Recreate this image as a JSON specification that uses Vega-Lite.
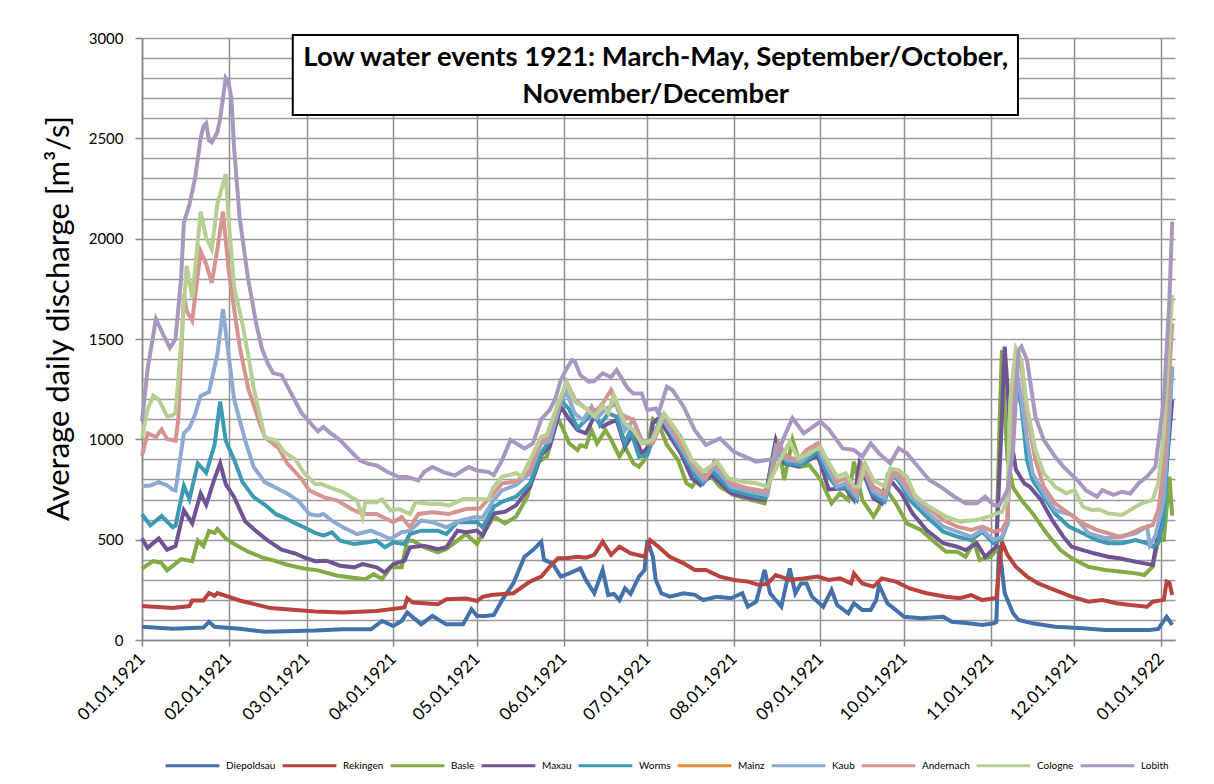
{
"$schema":"https://vega.github.io/schema/vega-lite/v6.json",
"width":1033,"height":602,
"autosize":"none",
"padding":{"left":142,"top":38,"right":39,"bottom":144},
"background":"white",
"config":{"font":"Lato","view":{"stroke":null}},
"data":{"values":[
{"s":"Diepoldsau","d":"1921-01-01","v":66},{"s":"Diepoldsau","d":"1921-01-12","v":56},{"s":"Diepoldsau","d":"1921-01-23","v":62},{"s":"Diepoldsau","d":"1921-01-25","v":90},{"s":"Diepoldsau","d":"1921-01-27","v":66},{"s":"Diepoldsau","d":"1921-02-05","v":56},{"s":"Diepoldsau","d":"1921-02-14","v":41},{"s":"Diepoldsau","d":"1921-02-25","v":45},{"s":"Diepoldsau","d":"1921-03-04","v":47},{"s":"Diepoldsau","d":"1921-03-14","v":53},{"s":"Diepoldsau","d":"1921-03-24","v":53},{"s":"Diepoldsau","d":"1921-03-28","v":95},{"s":"Diepoldsau","d":"1921-04-01","v":70},{"s":"Diepoldsau","d":"1921-04-04","v":95},{"s":"Diepoldsau","d":"1921-04-06","v":137},{"s":"Diepoldsau","d":"1921-04-11","v":78},{"s":"Diepoldsau","d":"1921-04-15","v":120},{"s":"Diepoldsau","d":"1921-04-20","v":78},{"s":"Diepoldsau","d":"1921-04-26","v":78},{"s":"Diepoldsau","d":"1921-04-29","v":153},{"s":"Diepoldsau","d":"1921-05-01","v":120},{"s":"Diepoldsau","d":"1921-05-04","v":120},{"s":"Diepoldsau","d":"1921-05-07","v":125},{"s":"Diepoldsau","d":"1921-05-10","v":199},{"s":"Diepoldsau","d":"1921-05-14","v":282},{"s":"Diepoldsau","d":"1921-05-18","v":415},{"s":"Diepoldsau","d":"1921-05-21","v":448},{"s":"Diepoldsau","d":"1921-05-24","v":490},{"s":"Diepoldsau","d":"1921-05-25","v":399},{"s":"Diepoldsau","d":"1921-05-28","v":382},{"s":"Diepoldsau","d":"1921-05-31","v":316},{"s":"Diepoldsau","d":"1921-06-03","v":332},{"s":"Diepoldsau","d":"1921-06-07","v":357},{"s":"Diepoldsau","d":"1921-06-09","v":299},{"s":"Diepoldsau","d":"1921-06-12","v":233},{"s":"Diepoldsau","d":"1921-06-15","v":349},{"s":"Diepoldsau","d":"1921-06-17","v":224},{"s":"Diepoldsau","d":"1921-06-19","v":230},{"s":"Diepoldsau","d":"1921-06-21","v":199},{"s":"Diepoldsau","d":"1921-06-23","v":257},{"s":"Diepoldsau","d":"1921-06-25","v":230},{"s":"Diepoldsau","d":"1921-06-28","v":316},{"s":"Diepoldsau","d":"1921-06-30","v":349},{"s":"Diepoldsau","d":"1921-07-01","v":498},{"s":"Diepoldsau","d":"1921-07-03","v":415},{"s":"Diepoldsau","d":"1921-07-04","v":300},{"s":"Diepoldsau","d":"1921-07-06","v":233},{"s":"Diepoldsau","d":"1921-07-09","v":216},{"s":"Diepoldsau","d":"1921-07-14","v":233},{"s":"Diepoldsau","d":"1921-07-18","v":225},{"s":"Diepoldsau","d":"1921-07-21","v":199},{"s":"Diepoldsau","d":"1921-07-26","v":216},{"s":"Diepoldsau","d":"1921-07-31","v":208},{"s":"Diepoldsau","d":"1921-08-04","v":233},{"s":"Diepoldsau","d":"1921-08-06","v":166},{"s":"Diepoldsau","d":"1921-08-09","v":191},{"s":"Diepoldsau","d":"1921-08-12","v":349},{"s":"Diepoldsau","d":"1921-08-14","v":233},{"s":"Diepoldsau","d":"1921-08-18","v":166},{"s":"Diepoldsau","d":"1921-08-21","v":357},{"s":"Diepoldsau","d":"1921-08-23","v":233},{"s":"Diepoldsau","d":"1921-08-25","v":282},{"s":"Diepoldsau","d":"1921-08-27","v":282},{"s":"Diepoldsau","d":"1921-08-29","v":216},{"s":"Diepoldsau","d":"1921-09-02","v":166},{"s":"Diepoldsau","d":"1921-09-05","v":249},{"s":"Diepoldsau","d":"1921-09-07","v":174},{"s":"Diepoldsau","d":"1921-09-11","v":133},{"s":"Diepoldsau","d":"1921-09-13","v":183},{"s":"Diepoldsau","d":"1921-09-16","v":150},{"s":"Diepoldsau","d":"1921-09-19","v":150},{"s":"Diepoldsau","d":"1921-09-21","v":199},{"s":"Diepoldsau","d":"1921-09-22","v":274},{"s":"Diepoldsau","d":"1921-09-25","v":183},{"s":"Diepoldsau","d":"1921-10-01","v":116},{"s":"Diepoldsau","d":"1921-10-07","v":108},{"s":"Diepoldsau","d":"1921-10-15","v":116},{"s":"Diepoldsau","d":"1921-10-18","v":91},{"s":"Diepoldsau","d":"1921-10-24","v":83},{"s":"Diepoldsau","d":"1921-10-29","v":75},{"s":"Diepoldsau","d":"1921-11-02","v":83},{"s":"Diepoldsau","d":"1921-11-03","v":90},{"s":"Diepoldsau","d":"1921-11-04","v":470},{"s":"Diepoldsau","d":"1921-11-06","v":233},{"s":"Diepoldsau","d":"1921-11-09","v":133},{"s":"Diepoldsau","d":"1921-11-11","v":100},{"s":"Diepoldsau","d":"1921-11-16","v":83},{"s":"Diepoldsau","d":"1921-11-24","v":66},{"s":"Diepoldsau","d":"1921-12-04","v":58},{"s":"Diepoldsau","d":"1921-12-12","v":50},{"s":"Diepoldsau","d":"1921-12-28","v":50},{"s":"Diepoldsau","d":"1921-12-31","v":55},{"s":"Diepoldsau","d":"1922-01-03","v":116},{"s":"Diepoldsau","d":"1922-01-05","v":75},
{"s":"Rekingen","d":"1921-01-01","v":169},{"s":"Rekingen","d":"1921-01-12","v":159},{"s":"Rekingen","d":"1921-01-18","v":169},{"s":"Rekingen","d":"1921-01-19","v":197},{"s":"Rekingen","d":"1921-01-23","v":197},{"s":"Rekingen","d":"1921-01-25","v":234},{"s":"Rekingen","d":"1921-01-27","v":220},{"s":"Rekingen","d":"1921-01-28","v":234},{"s":"Rekingen","d":"1921-02-05","v":197},{"s":"Rekingen","d":"1921-02-16","v":159},{"s":"Rekingen","d":"1921-03-04","v":142},{"s":"Rekingen","d":"1921-03-14","v":137},{"s":"Rekingen","d":"1921-03-26","v":145},{"s":"Rekingen","d":"1921-04-05","v":162},{"s":"Rekingen","d":"1921-04-06","v":208},{"s":"Rekingen","d":"1921-04-08","v":187},{"s":"Rekingen","d":"1921-04-17","v":178},{"s":"Rekingen","d":"1921-04-20","v":203},{"s":"Rekingen","d":"1921-04-27","v":207},{"s":"Rekingen","d":"1921-05-01","v":195},{"s":"Rekingen","d":"1921-05-03","v":215},{"s":"Rekingen","d":"1921-05-06","v":224},{"s":"Rekingen","d":"1921-05-14","v":233},{"s":"Rekingen","d":"1921-05-20","v":291},{"s":"Rekingen","d":"1921-05-24","v":316},{"s":"Rekingen","d":"1921-05-27","v":365},{"s":"Rekingen","d":"1921-05-30","v":407},{"s":"Rekingen","d":"1921-06-02","v":407},{"s":"Rekingen","d":"1921-06-06","v":415},{"s":"Rekingen","d":"1921-06-09","v":410},{"s":"Rekingen","d":"1921-06-12","v":424},{"s":"Rekingen","d":"1921-06-15","v":490},{"s":"Rekingen","d":"1921-06-18","v":424},{"s":"Rekingen","d":"1921-06-21","v":465},{"s":"Rekingen","d":"1921-06-25","v":432},{"s":"Rekingen","d":"1921-06-30","v":415},{"s":"Rekingen","d":"1921-07-02","v":498},{"s":"Rekingen","d":"1921-07-05","v":465},{"s":"Rekingen","d":"1921-07-09","v":415},{"s":"Rekingen","d":"1921-07-14","v":382},{"s":"Rekingen","d":"1921-07-18","v":349},{"s":"Rekingen","d":"1921-07-22","v":349},{"s":"Rekingen","d":"1921-07-27","v":316},{"s":"Rekingen","d":"1921-08-01","v":299},{"s":"Rekingen","d":"1921-08-06","v":291},{"s":"Rekingen","d":"1921-08-10","v":274},{"s":"Rekingen","d":"1921-08-13","v":280},{"s":"Rekingen","d":"1921-08-16","v":324},{"s":"Rekingen","d":"1921-08-21","v":299},{"s":"Rekingen","d":"1921-08-26","v":307},{"s":"Rekingen","d":"1921-08-31","v":316},{"s":"Rekingen","d":"1921-09-04","v":299},{"s":"Rekingen","d":"1921-09-08","v":307},{"s":"Rekingen","d":"1921-09-12","v":282},{"s":"Rekingen","d":"1921-09-13","v":332},{"s":"Rekingen","d":"1921-09-16","v":282},{"s":"Rekingen","d":"1921-09-20","v":266},{"s":"Rekingen","d":"1921-09-23","v":307},{"s":"Rekingen","d":"1921-09-28","v":291},{"s":"Rekingen","d":"1921-10-03","v":257},{"s":"Rekingen","d":"1921-10-09","v":233},{"s":"Rekingen","d":"1921-10-16","v":216},{"s":"Rekingen","d":"1921-10-21","v":208},{"s":"Rekingen","d":"1921-10-25","v":224},{"s":"Rekingen","d":"1921-10-29","v":199},{"s":"Rekingen","d":"1921-11-03","v":210},{"s":"Rekingen","d":"1921-11-05","v":490},{"s":"Rekingen","d":"1921-11-07","v":424},{"s":"Rekingen","d":"1921-11-10","v":365},{"s":"Rekingen","d":"1921-11-14","v":316},{"s":"Rekingen","d":"1921-11-18","v":282},{"s":"Rekingen","d":"1921-11-24","v":249},{"s":"Rekingen","d":"1921-11-30","v":216},{"s":"Rekingen","d":"1921-12-06","v":191},{"s":"Rekingen","d":"1921-12-11","v":199},{"s":"Rekingen","d":"1921-12-16","v":183},{"s":"Rekingen","d":"1921-12-21","v":174},{"s":"Rekingen","d":"1921-12-27","v":166},{"s":"Rekingen","d":"1921-12-29","v":191},{"s":"Rekingen","d":"1922-01-02","v":200},{"s":"Rekingen","d":"1922-01-03","v":291},{"s":"Rekingen","d":"1922-01-04","v":285},{"s":"Rekingen","d":"1922-01-05","v":224},
{"s":"Basle","d":"1921-01-01","v":356},{"s":"Basle","d":"1921-01-05","v":393},{"s":"Basle","d":"1921-01-08","v":384},{"s":"Basle","d":"1921-01-10","v":347},{"s":"Basle","d":"1921-01-15","v":403},{"s":"Basle","d":"1921-01-19","v":393},{"s":"Basle","d":"1921-01-21","v":496},{"s":"Basle","d":"1921-01-23","v":468},{"s":"Basle","d":"1921-01-25","v":543},{"s":"Basle","d":"1921-01-27","v":534},{"s":"Basle","d":"1921-01-28","v":553},{"s":"Basle","d":"1921-01-31","v":506},{"s":"Basle","d":"1921-02-03","v":478},{"s":"Basle","d":"1921-02-08","v":440},{"s":"Basle","d":"1921-02-13","v":412},{"s":"Basle","d":"1921-02-18","v":393},{"s":"Basle","d":"1921-02-22","v":375},{"s":"Basle","d":"1921-02-28","v":356},{"s":"Basle","d":"1921-03-05","v":347},{"s":"Basle","d":"1921-03-12","v":320},{"s":"Basle","d":"1921-03-17","v":312},{"s":"Basle","d":"1921-03-22","v":303},{"s":"Basle","d":"1921-03-25","v":328},{"s":"Basle","d":"1921-03-28","v":303},{"s":"Basle","d":"1921-03-31","v":362},{"s":"Basle","d":"1921-04-04","v":362},{"s":"Basle","d":"1921-04-06","v":495},{"s":"Basle","d":"1921-04-08","v":495},{"s":"Basle","d":"1921-04-12","v":462},{"s":"Basle","d":"1921-04-17","v":437},{"s":"Basle","d":"1921-04-20","v":453},{"s":"Basle","d":"1921-04-24","v":495},{"s":"Basle","d":"1921-04-27","v":528},{"s":"Basle","d":"1921-05-01","v":478},{"s":"Basle","d":"1921-05-03","v":528},{"s":"Basle","d":"1921-05-07","v":615},{"s":"Basle","d":"1921-05-11","v":581},{"s":"Basle","d":"1921-05-15","v":615},{"s":"Basle","d":"1921-05-19","v":714},{"s":"Basle","d":"1921-05-22","v":880},{"s":"Basle","d":"1921-05-26","v":914},{"s":"Basle","d":"1921-05-30","v":1105},{"s":"Basle","d":"1921-06-01","v":1046},{"s":"Basle","d":"1921-06-03","v":980},{"s":"Basle","d":"1921-06-06","v":947},{"s":"Basle","d":"1921-06-07","v":970},{"s":"Basle","d":"1921-06-09","v":963},{"s":"Basle","d":"1921-06-11","v":1046},{"s":"Basle","d":"1921-06-13","v":980},{"s":"Basle","d":"1921-06-16","v":1046},{"s":"Basle","d":"1921-06-18","v":1000},{"s":"Basle","d":"1921-06-21","v":914},{"s":"Basle","d":"1921-06-23","v":963},{"s":"Basle","d":"1921-06-26","v":880},{"s":"Basle","d":"1921-06-28","v":864},{"s":"Basle","d":"1921-06-30","v":897},{"s":"Basle","d":"1921-07-03","v":1100},{"s":"Basle","d":"1921-07-05","v":1080},{"s":"Basle","d":"1921-07-08","v":972},{"s":"Basle","d":"1921-07-12","v":897},{"s":"Basle","d":"1921-07-15","v":781},{"s":"Basle","d":"1921-07-17","v":764},{"s":"Basle","d":"1921-07-20","v":831},{"s":"Basle","d":"1921-07-24","v":814},{"s":"Basle","d":"1921-07-27","v":764},{"s":"Basle","d":"1921-08-01","v":722},{"s":"Basle","d":"1921-08-07","v":698},{"s":"Basle","d":"1921-08-12","v":681},{"s":"Basle","d":"1921-08-14","v":797},{"s":"Basle","d":"1921-08-17","v":988},{"s":"Basle","d":"1921-08-19","v":797},{"s":"Basle","d":"1921-08-22","v":997},{"s":"Basle","d":"1921-08-25","v":864},{"s":"Basle","d":"1921-08-28","v":872},{"s":"Basle","d":"1921-09-01","v":800},{"s":"Basle","d":"1921-09-05","v":681},{"s":"Basle","d":"1921-09-08","v":731},{"s":"Basle","d":"1921-09-11","v":698},{"s":"Basle","d":"1921-09-13","v":889},{"s":"Basle","d":"1921-09-16","v":698},{"s":"Basle","d":"1921-09-20","v":615},{"s":"Basle","d":"1921-09-22","v":660},{"s":"Basle","d":"1921-09-24","v":764},{"s":"Basle","d":"1921-09-28","v":681},{"s":"Basle","d":"1921-10-02","v":581},{"s":"Basle","d":"1921-10-07","v":548},{"s":"Basle","d":"1921-10-11","v":498},{"s":"Basle","d":"1921-10-16","v":440},{"s":"Basle","d":"1921-10-20","v":440},{"s":"Basle","d":"1921-10-23","v":415},{"s":"Basle","d":"1921-10-26","v":490},{"s":"Basle","d":"1921-10-28","v":399},{"s":"Basle","d":"1921-11-01","v":415},{"s":"Basle","d":"1921-11-03","v":448},{"s":"Basle","d":"1921-11-04","v":1000},{"s":"Basle","d":"1921-11-05","v":1445},{"s":"Basle","d":"1921-11-06","v":1150},{"s":"Basle","d":"1921-11-07","v":900},{"s":"Basle","d":"1921-11-09","v":760},{"s":"Basle","d":"1921-11-12","v":698},{"s":"Basle","d":"1921-11-16","v":631},{"s":"Basle","d":"1921-11-21","v":532},{"s":"Basle","d":"1921-11-26","v":448},{"s":"Basle","d":"1921-11-30","v":407},{"s":"Basle","d":"1921-12-06","v":365},{"s":"Basle","d":"1921-12-12","v":349},{"s":"Basle","d":"1921-12-18","v":340},{"s":"Basle","d":"1921-12-23","v":332},{"s":"Basle","d":"1921-12-26","v":324},{"s":"Basle","d":"1921-12-29","v":365},{"s":"Basle","d":"1921-12-31","v":498},{"s":"Basle","d":"1922-01-02","v":498},{"s":"Basle","d":"1922-01-04","v":814},{"s":"Basle","d":"1922-01-05","v":620},
{"s":"Maxau","d":"1921-01-01","v":506},{"s":"Maxau","d":"1921-01-03","v":459},{"s":"Maxau","d":"1921-01-07","v":506},{"s":"Maxau","d":"1921-01-10","v":450},{"s":"Maxau","d":"1921-01-13","v":468},{"s":"Maxau","d":"1921-01-16","v":646},{"s":"Maxau","d":"1921-01-19","v":581},{"s":"Maxau","d":"1921-01-22","v":730},{"s":"Maxau","d":"1921-01-24","v":674},{"s":"Maxau","d":"1921-01-27","v":805},{"s":"Maxau","d":"1921-01-29","v":880},{"s":"Maxau","d":"1921-01-31","v":777},{"s":"Maxau","d":"1921-02-03","v":712},{"s":"Maxau","d":"1921-02-07","v":590},{"s":"Maxau","d":"1921-02-10","v":553},{"s":"Maxau","d":"1921-02-15","v":496},{"s":"Maxau","d":"1921-02-20","v":450},{"s":"Maxau","d":"1921-02-25","v":431},{"s":"Maxau","d":"1921-02-28","v":412},{"s":"Maxau","d":"1921-03-04","v":393},{"s":"Maxau","d":"1921-03-08","v":395},{"s":"Maxau","d":"1921-03-13","v":370},{"s":"Maxau","d":"1921-03-18","v":362},{"s":"Maxau","d":"1921-03-21","v":378},{"s":"Maxau","d":"1921-03-26","v":362},{"s":"Maxau","d":"1921-03-29","v":337},{"s":"Maxau","d":"1921-04-01","v":378},{"s":"Maxau","d":"1921-04-05","v":395},{"s":"Maxau","d":"1921-04-07","v":462},{"s":"Maxau","d":"1921-04-12","v":470},{"s":"Maxau","d":"1921-04-17","v":453},{"s":"Maxau","d":"1921-04-20","v":462},{"s":"Maxau","d":"1921-04-24","v":545},{"s":"Maxau","d":"1921-04-27","v":537},{"s":"Maxau","d":"1921-05-01","v":545},{"s":"Maxau","d":"1921-05-03","v":520},{"s":"Maxau","d":"1921-05-07","v":631},{"s":"Maxau","d":"1921-05-11","v":639},{"s":"Maxau","d":"1921-05-15","v":672},{"s":"Maxau","d":"1921-05-20","v":764},{"s":"Maxau","d":"1921-05-24","v":922},{"s":"Maxau","d":"1921-05-27","v":963},{"s":"Maxau","d":"1921-05-31","v":1163},{"s":"Maxau","d":"1921-06-03","v":1100},{"s":"Maxau","d":"1921-06-06","v":1046},{"s":"Maxau","d":"1921-06-09","v":1030},{"s":"Maxau","d":"1921-06-12","v":1113},{"s":"Maxau","d":"1921-06-15","v":1063},{"s":"Maxau","d":"1921-06-17","v":1080},{"s":"Maxau","d":"1921-06-20","v":1096},{"s":"Maxau","d":"1921-06-23","v":963},{"s":"Maxau","d":"1921-06-26","v":1030},{"s":"Maxau","d":"1921-06-29","v":930},{"s":"Maxau","d":"1921-07-02","v":970},{"s":"Maxau","d":"1921-07-03","v":1080},{"s":"Maxau","d":"1921-07-05","v":1105},{"s":"Maxau","d":"1921-07-13","v":930},{"s":"Maxau","d":"1921-07-17","v":806},{"s":"Maxau","d":"1921-07-20","v":772},{"s":"Maxau","d":"1921-07-24","v":822},{"s":"Maxau","d":"1921-07-31","v":731},{"s":"Maxau","d":"1921-08-07","v":706},{"s":"Maxau","d":"1921-08-12","v":698},{"s":"Maxau","d":"1921-08-16","v":997},{"s":"Maxau","d":"1921-08-19","v":880},{"s":"Maxau","d":"1921-08-24","v":864},{"s":"Maxau","d":"1921-08-31","v":922},{"s":"Maxau","d":"1921-09-04","v":750},{"s":"Maxau","d":"1921-09-10","v":756},{"s":"Maxau","d":"1921-09-13","v":698},{"s":"Maxau","d":"1921-09-15","v":880},{"s":"Maxau","d":"1921-09-20","v":706},{"s":"Maxau","d":"1921-09-23","v":681},{"s":"Maxau","d":"1921-09-25","v":814},{"s":"Maxau","d":"1921-09-30","v":731},{"s":"Maxau","d":"1921-10-04","v":631},{"s":"Maxau","d":"1921-10-09","v":548},{"s":"Maxau","d":"1921-10-15","v":482},{"s":"Maxau","d":"1921-10-20","v":465},{"s":"Maxau","d":"1921-10-23","v":448},{"s":"Maxau","d":"1921-10-27","v":482},{"s":"Maxau","d":"1921-10-30","v":415},{"s":"Maxau","d":"1921-11-03","v":465},{"s":"Maxau","d":"1921-11-05","v":1113},{"s":"Maxau","d":"1921-11-06","v":1462},{"s":"Maxau","d":"1921-11-07","v":1262},{"s":"Maxau","d":"1921-11-08","v":1030},{"s":"Maxau","d":"1921-11-10","v":850},{"s":"Maxau","d":"1921-11-13","v":781},{"s":"Maxau","d":"1921-11-15","v":764},{"s":"Maxau","d":"1921-11-19","v":698},{"s":"Maxau","d":"1921-11-23","v":598},{"s":"Maxau","d":"1921-11-27","v":515},{"s":"Maxau","d":"1921-11-30","v":465},{"s":"Maxau","d":"1921-12-04","v":448},{"s":"Maxau","d":"1921-12-08","v":432},{"s":"Maxau","d":"1921-12-13","v":415},{"s":"Maxau","d":"1921-12-17","v":407},{"s":"Maxau","d":"1921-12-23","v":390},{"s":"Maxau","d":"1921-12-26","v":382},{"s":"Maxau","d":"1921-12-29","v":374},{"s":"Maxau","d":"1921-12-31","v":532},{"s":"Maxau","d":"1922-01-02","v":698},{"s":"Maxau","d":"1922-01-05","v":1196},
{"s":"Worms","d":"1921-01-01","v":627},{"s":"Worms","d":"1921-01-04","v":571},{"s":"Worms","d":"1921-01-08","v":618},{"s":"Worms","d":"1921-01-12","v":562},{"s":"Worms","d":"1921-01-13","v":570},{"s":"Worms","d":"1921-01-16","v":768},{"s":"Worms","d":"1921-01-18","v":702},{"s":"Worms","d":"1921-01-21","v":880},{"s":"Worms","d":"1921-01-24","v":833},{"s":"Worms","d":"1921-01-27","v":974},{"s":"Worms","d":"1921-01-29","v":1189},{"s":"Worms","d":"1921-01-31","v":993},{"s":"Worms","d":"1921-02-03","v":899},{"s":"Worms","d":"1921-02-06","v":787},{"s":"Worms","d":"1921-02-10","v":712},{"s":"Worms","d":"1921-02-14","v":674},{"s":"Worms","d":"1921-02-18","v":627},{"s":"Worms","d":"1921-02-21","v":609},{"s":"Worms","d":"1921-02-25","v":581},{"s":"Worms","d":"1921-02-28","v":562},{"s":"Worms","d":"1921-03-04","v":534},{"s":"Worms","d":"1921-03-07","v":520},{"s":"Worms","d":"1921-03-10","v":537},{"s":"Worms","d":"1921-03-13","v":495},{"s":"Worms","d":"1921-03-18","v":478},{"s":"Worms","d":"1921-03-23","v":487},{"s":"Worms","d":"1921-03-26","v":495},{"s":"Worms","d":"1921-03-29","v":462},{"s":"Worms","d":"1921-04-01","v":487},{"s":"Worms","d":"1921-04-05","v":478},{"s":"Worms","d":"1921-04-07","v":528},{"s":"Worms","d":"1921-04-11","v":545},{"s":"Worms","d":"1921-04-17","v":545},{"s":"Worms","d":"1921-04-20","v":528},{"s":"Worms","d":"1921-04-24","v":587},{"s":"Worms","d":"1921-04-27","v":587},{"s":"Worms","d":"1921-05-01","v":587},{"s":"Worms","d":"1921-05-03","v":562},{"s":"Worms","d":"1921-05-07","v":664},{"s":"Worms","d":"1921-05-10","v":689},{"s":"Worms","d":"1921-05-15","v":714},{"s":"Worms","d":"1921-05-20","v":781},{"s":"Worms","d":"1921-05-24","v":930},{"s":"Worms","d":"1921-05-27","v":997},{"s":"Worms","d":"1921-05-31","v":1196},{"s":"Worms","d":"1921-06-03","v":1150},{"s":"Worms","d":"1921-06-06","v":1055},{"s":"Worms","d":"1921-06-09","v":1096},{"s":"Worms","d":"1921-06-12","v":1138},{"s":"Worms","d":"1921-06-14","v":1071},{"s":"Worms","d":"1921-06-17","v":1129},{"s":"Worms","d":"1921-06-20","v":1113},{"s":"Worms","d":"1921-06-23","v":980},{"s":"Worms","d":"1921-06-25","v":1046},{"s":"Worms","d":"1921-06-28","v":914},{"s":"Worms","d":"1921-07-01","v":922},{"s":"Worms","d":"1921-07-03","v":1000},{"s":"Worms","d":"1921-07-06","v":1113},{"s":"Worms","d":"1921-07-13","v":947},{"s":"Worms","d":"1921-07-18","v":822},{"s":"Worms","d":"1921-07-21","v":781},{"s":"Worms","d":"1921-07-24","v":847},{"s":"Worms","d":"1921-07-31","v":747},{"s":"Worms","d":"1921-08-07","v":722},{"s":"Worms","d":"1921-08-12","v":706},{"s":"Worms","d":"1921-08-16","v":963},{"s":"Worms","d":"1921-08-20","v":880},{"s":"Worms","d":"1921-08-25","v":872},{"s":"Worms","d":"1921-08-31","v":938},{"s":"Worms","d":"1921-09-04","v":814},{"s":"Worms","d":"1921-09-07","v":756},{"s":"Worms","d":"1921-09-10","v":764},{"s":"Worms","d":"1921-09-14","v":698},{"s":"Worms","d":"1921-09-16","v":864},{"s":"Worms","d":"1921-09-20","v":723},{"s":"Worms","d":"1921-09-24","v":689},{"s":"Worms","d":"1921-09-27","v":831},{"s":"Worms","d":"1921-09-30","v":772},{"s":"Worms","d":"1921-10-03","v":698},{"s":"Worms","d":"1921-10-09","v":615},{"s":"Worms","d":"1921-10-15","v":540},{"s":"Worms","d":"1921-10-20","v":515},{"s":"Worms","d":"1921-10-25","v":498},{"s":"Worms","d":"1921-10-29","v":540},{"s":"Worms","d":"1921-11-02","v":482},{"s":"Worms","d":"1921-11-05","v":507},{"s":"Worms","d":"1921-11-07","v":580},{"s":"Worms","d":"1921-11-08","v":1080},{"s":"Worms","d":"1921-11-10","v":1280},{"s":"Worms","d":"1921-11-12","v":1163},{"s":"Worms","d":"1921-11-14","v":897},{"s":"Worms","d":"1921-11-16","v":797},{"s":"Worms","d":"1921-11-20","v":714},{"s":"Worms","d":"1921-11-24","v":631},{"s":"Worms","d":"1921-11-29","v":565},{"s":"Worms","d":"1921-12-04","v":532},{"s":"Worms","d":"1921-12-09","v":498},{"s":"Worms","d":"1921-12-13","v":482},{"s":"Worms","d":"1921-12-18","v":482},{"s":"Worms","d":"1921-12-23","v":498},{"s":"Worms","d":"1921-12-27","v":482},{"s":"Worms","d":"1921-12-29","v":465},{"s":"Worms","d":"1921-12-31","v":482},{"s":"Worms","d":"1922-01-02","v":598},{"s":"Worms","d":"1922-01-05","v":1362},
{"s":"Kaub","d":"1921-01-01","v":768},{"s":"Kaub","d":"1921-01-04","v":770},{"s":"Kaub","d":"1921-01-07","v":787},{"s":"Kaub","d":"1921-01-10","v":770},{"s":"Kaub","d":"1921-01-12","v":749},{"s":"Kaub","d":"1921-01-13","v":745},{"s":"Kaub","d":"1921-01-16","v":1030},{"s":"Kaub","d":"1921-01-18","v":1058},{"s":"Kaub","d":"1921-01-20","v":1124},{"s":"Kaub","d":"1921-01-22","v":1217},{"s":"Kaub","d":"1921-01-25","v":1236},{"s":"Kaub","d":"1921-01-28","v":1423},{"s":"Kaub","d":"1921-01-30","v":1648},{"s":"Kaub","d":"1921-02-01","v":1423},{"s":"Kaub","d":"1921-02-03","v":1199},{"s":"Kaub","d":"1921-02-07","v":993},{"s":"Kaub","d":"1921-02-10","v":862},{"s":"Kaub","d":"1921-02-14","v":787},{"s":"Kaub","d":"1921-02-18","v":759},{"s":"Kaub","d":"1921-02-22","v":730},{"s":"Kaub","d":"1921-02-26","v":693},{"s":"Kaub","d":"1921-03-02","v":627},{"s":"Kaub","d":"1921-03-05","v":620},{"s":"Kaub","d":"1921-03-07","v":628},{"s":"Kaub","d":"1921-03-10","v":595},{"s":"Kaub","d":"1921-03-14","v":562},{"s":"Kaub","d":"1921-03-19","v":528},{"s":"Kaub","d":"1921-03-24","v":545},{"s":"Kaub","d":"1921-03-27","v":528},{"s":"Kaub","d":"1921-03-31","v":503},{"s":"Kaub","d":"1921-04-04","v":537},{"s":"Kaub","d":"1921-04-07","v":545},{"s":"Kaub","d":"1921-04-11","v":595},{"s":"Kaub","d":"1921-04-15","v":587},{"s":"Kaub","d":"1921-04-20","v":562},{"s":"Kaub","d":"1921-04-25","v":595},{"s":"Kaub","d":"1921-04-30","v":612},{"s":"Kaub","d":"1921-05-03","v":610},{"s":"Kaub","d":"1921-05-07","v":698},{"s":"Kaub","d":"1921-05-10","v":747},{"s":"Kaub","d":"1921-05-15","v":772},{"s":"Kaub","d":"1921-05-20","v":831},{"s":"Kaub","d":"1921-05-24","v":980},{"s":"Kaub","d":"1921-05-27","v":990},{"s":"Kaub","d":"1921-05-31","v":1188},{"s":"Kaub","d":"1921-06-02","v":1237},{"s":"Kaub","d":"1921-06-05","v":1129},{"s":"Kaub","d":"1921-06-08","v":1096},{"s":"Kaub","d":"1921-06-11","v":1163},{"s":"Kaub","d":"1921-06-13","v":1105},{"s":"Kaub","d":"1921-06-16","v":1150},{"s":"Kaub","d":"1921-06-20","v":1179},{"s":"Kaub","d":"1921-06-23","v":1046},{"s":"Kaub","d":"1921-06-26","v":1096},{"s":"Kaub","d":"1921-06-29","v":997},{"s":"Kaub","d":"1921-07-02","v":980},{"s":"Kaub","d":"1921-07-06","v":1113},{"s":"Kaub","d":"1921-07-13","v":963},{"s":"Kaub","d":"1921-07-18","v":847},{"s":"Kaub","d":"1921-07-21","v":797},{"s":"Kaub","d":"1921-07-25","v":864},{"s":"Kaub","d":"1921-07-31","v":764},{"s":"Kaub","d":"1921-08-07","v":739},{"s":"Kaub","d":"1921-08-13","v":722},{"s":"Kaub","d":"1921-08-16","v":963},{"s":"Kaub","d":"1921-08-20","v":897},{"s":"Kaub","d":"1921-08-25","v":889},{"s":"Kaub","d":"1921-08-31","v":963},{"s":"Kaub","d":"1921-09-04","v":847},{"s":"Kaub","d":"1921-09-07","v":764},{"s":"Kaub","d":"1921-09-10","v":781},{"s":"Kaub","d":"1921-09-14","v":714},{"s":"Kaub","d":"1921-09-16","v":864},{"s":"Kaub","d":"1921-09-20","v":739},{"s":"Kaub","d":"1921-09-24","v":706},{"s":"Kaub","d":"1921-09-27","v":831},{"s":"Kaub","d":"1921-09-30","v":789},{"s":"Kaub","d":"1921-10-03","v":723},{"s":"Kaub","d":"1921-10-09","v":639},{"s":"Kaub","d":"1921-10-15","v":565},{"s":"Kaub","d":"1921-10-20","v":540},{"s":"Kaub","d":"1921-10-25","v":515},{"s":"Kaub","d":"1921-10-29","v":548},{"s":"Kaub","d":"1921-11-02","v":498},{"s":"Kaub","d":"1921-11-05","v":515},{"s":"Kaub","d":"1921-11-07","v":590},{"s":"Kaub","d":"1921-11-08","v":1050},{"s":"Kaub","d":"1921-11-10","v":1362},{"s":"Kaub","d":"1921-11-12","v":1200},{"s":"Kaub","d":"1921-11-14","v":1000},{"s":"Kaub","d":"1921-11-16","v":831},{"s":"Kaub","d":"1921-11-20","v":731},{"s":"Kaub","d":"1921-11-24","v":648},{"s":"Kaub","d":"1921-11-30","v":623},{"s":"Kaub","d":"1921-12-02","v":600},{"s":"Kaub","d":"1921-12-06","v":532},{"s":"Kaub","d":"1921-12-12","v":507},{"s":"Kaub","d":"1921-12-18","v":515},{"s":"Kaub","d":"1921-12-23","v":532},{"s":"Kaub","d":"1921-12-27","v":565},{"s":"Kaub","d":"1921-12-28","v":473},{"s":"Kaub","d":"1921-12-30","v":520},{"s":"Kaub","d":"1922-01-02","v":698},{"s":"Kaub","d":"1922-01-05","v":1362},
{"s":"Andernach","d":"1921-01-01","v":918},{"s":"Andernach","d":"1921-01-03","v":1030},{"s":"Andernach","d":"1921-01-06","v":1011},{"s":"Andernach","d":"1921-01-08","v":1049},{"s":"Andernach","d":"1921-01-10","v":1002},{"s":"Andernach","d":"1921-01-13","v":993},{"s":"Andernach","d":"1921-01-14","v":1100},{"s":"Andernach","d":"1921-01-16","v":1723},{"s":"Andernach","d":"1921-01-17","v":1640},{"s":"Andernach","d":"1921-01-19","v":1592},{"s":"Andernach","d":"1921-01-22","v":1938},{"s":"Andernach","d":"1921-01-24","v":1873},{"s":"Andernach","d":"1921-01-26","v":1779},{"s":"Andernach","d":"1921-01-28","v":1948},{"s":"Andernach","d":"1921-01-30","v":2135},{"s":"Andernach","d":"1921-02-01","v":1850},{"s":"Andernach","d":"1921-02-03","v":1650},{"s":"Andernach","d":"1921-02-05","v":1461},{"s":"Andernach","d":"1921-02-08","v":1255},{"s":"Andernach","d":"1921-02-12","v":1086},{"s":"Andernach","d":"1921-02-14","v":1011},{"s":"Andernach","d":"1921-02-19","v":955},{"s":"Andernach","d":"1921-02-22","v":880},{"s":"Andernach","d":"1921-02-27","v":805},{"s":"Andernach","d":"1921-03-02","v":745},{"s":"Andernach","d":"1921-03-07","v":712},{"s":"Andernach","d":"1921-03-12","v":695},{"s":"Andernach","d":"1921-03-17","v":653},{"s":"Andernach","d":"1921-03-21","v":628},{"s":"Andernach","d":"1921-03-26","v":628},{"s":"Andernach","d":"1921-04-01","v":587},{"s":"Andernach","d":"1921-04-04","v":612},{"s":"Andernach","d":"1921-04-07","v":562},{"s":"Andernach","d":"1921-04-10","v":628},{"s":"Andernach","d":"1921-04-15","v":637},{"s":"Andernach","d":"1921-04-21","v":628},{"s":"Andernach","d":"1921-04-27","v":653},{"s":"Andernach","d":"1921-05-02","v":655},{"s":"Andernach","d":"1921-05-07","v":731},{"s":"Andernach","d":"1921-05-10","v":781},{"s":"Andernach","d":"1921-05-15","v":789},{"s":"Andernach","d":"1921-05-20","v":847},{"s":"Andernach","d":"1921-05-24","v":997},{"s":"Andernach","d":"1921-05-26","v":1000},{"s":"Andernach","d":"1921-05-30","v":1163},{"s":"Andernach","d":"1921-06-02","v":1287},{"s":"Andernach","d":"1921-06-05","v":1200},{"s":"Andernach","d":"1921-06-09","v":1154},{"s":"Andernach","d":"1921-06-13","v":1146},{"s":"Andernach","d":"1921-06-15","v":1180},{"s":"Andernach","d":"1921-06-18","v":1246},{"s":"Andernach","d":"1921-06-21","v":1129},{"s":"Andernach","d":"1921-06-26","v":1096},{"s":"Andernach","d":"1921-06-29","v":980},{"s":"Andernach","d":"1921-07-03","v":980},{"s":"Andernach","d":"1921-07-07","v":1120},{"s":"Andernach","d":"1921-07-13","v":980},{"s":"Andernach","d":"1921-07-18","v":864},{"s":"Andernach","d":"1921-07-22","v":806},{"s":"Andernach","d":"1921-07-25","v":889},{"s":"Andernach","d":"1921-07-31","v":781},{"s":"Andernach","d":"1921-08-06","v":756},{"s":"Andernach","d":"1921-08-10","v":747},{"s":"Andernach","d":"1921-08-13","v":739},{"s":"Andernach","d":"1921-08-17","v":980},{"s":"Andernach","d":"1921-08-20","v":914},{"s":"Andernach","d":"1921-08-24","v":897},{"s":"Andernach","d":"1921-08-27","v":947},{"s":"Andernach","d":"1921-08-31","v":980},{"s":"Andernach","d":"1921-09-04","v":880},{"s":"Andernach","d":"1921-09-07","v":789},{"s":"Andernach","d":"1921-09-10","v":805},{"s":"Andernach","d":"1921-09-14","v":731},{"s":"Andernach","d":"1921-09-16","v":864},{"s":"Andernach","d":"1921-09-20","v":764},{"s":"Andernach","d":"1921-09-24","v":731},{"s":"Andernach","d":"1921-09-27","v":839},{"s":"Andernach","d":"1921-09-29","v":830},{"s":"Andernach","d":"1921-10-03","v":747},{"s":"Andernach","d":"1921-10-09","v":664},{"s":"Andernach","d":"1921-10-15","v":598},{"s":"Andernach","d":"1921-10-20","v":565},{"s":"Andernach","d":"1921-10-25","v":548},{"s":"Andernach","d":"1921-10-29","v":565},{"s":"Andernach","d":"1921-11-02","v":540},{"s":"Andernach","d":"1921-11-05","v":548},{"s":"Andernach","d":"1921-11-07","v":600},{"s":"Andernach","d":"1921-11-08","v":1030},{"s":"Andernach","d":"1921-11-10","v":1395},{"s":"Andernach","d":"1921-11-12","v":1362},{"s":"Andernach","d":"1921-11-14","v":1129},{"s":"Andernach","d":"1921-11-17","v":897},{"s":"Andernach","d":"1921-11-20","v":764},{"s":"Andernach","d":"1921-11-24","v":681},{"s":"Andernach","d":"1921-11-29","v":631},{"s":"Andernach","d":"1921-12-04","v":581},{"s":"Andernach","d":"1921-12-09","v":548},{"s":"Andernach","d":"1921-12-13","v":532},{"s":"Andernach","d":"1921-12-17","v":515},{"s":"Andernach","d":"1921-12-21","v":530},{"s":"Andernach","d":"1921-12-25","v":556},{"s":"Andernach","d":"1921-12-29","v":573},{"s":"Andernach","d":"1921-12-31","v":648},{"s":"Andernach","d":"1922-01-02","v":864},{"s":"Andernach","d":"1922-01-05","v":1578},
{"s":"Cologne","d":"1921-01-01","v":1010},{"s":"Cologne","d":"1921-01-03","v":1150},{"s":"Cologne","d":"1921-01-05","v":1217},{"s":"Cologne","d":"1921-01-07","v":1199},{"s":"Cologne","d":"1921-01-10","v":1114},{"s":"Cologne","d":"1921-01-12","v":1120},{"s":"Cologne","d":"1921-01-13","v":1133},{"s":"Cologne","d":"1921-01-14","v":1300},{"s":"Cologne","d":"1921-01-15","v":1480},{"s":"Cologne","d":"1921-01-17","v":1864},{"s":"Cologne","d":"1921-01-19","v":1704},{"s":"Cologne","d":"1921-01-22","v":2135},{"s":"Cologne","d":"1921-01-24","v":2004},{"s":"Cologne","d":"1921-01-26","v":1948},{"s":"Cologne","d":"1921-01-28","v":2173},{"s":"Cologne","d":"1921-01-31","v":2322},{"s":"Cologne","d":"1921-02-01","v":2100},{"s":"Cologne","d":"1921-02-03","v":1761},{"s":"Cologne","d":"1921-02-06","v":1573},{"s":"Cologne","d":"1921-02-08","v":1423},{"s":"Cologne","d":"1921-02-10","v":1255},{"s":"Cologne","d":"1921-02-14","v":1011},{"s":"Cologne","d":"1921-02-18","v":993},{"s":"Cologne","d":"1921-02-21","v":936},{"s":"Cologne","d":"1921-02-25","v":899},{"s":"Cologne","d":"1921-02-28","v":833},{"s":"Cologne","d":"1921-03-04","v":777},{"s":"Cologne","d":"1921-03-06","v":778},{"s":"Cologne","d":"1921-03-09","v":762},{"s":"Cologne","d":"1921-03-14","v":737},{"s":"Cologne","d":"1921-03-19","v":695},{"s":"Cologne","d":"1921-03-21","v":612},{"s":"Cologne","d":"1921-03-22","v":687},{"s":"Cologne","d":"1921-03-26","v":687},{"s":"Cologne","d":"1921-03-28","v":700},{"s":"Cologne","d":"1921-03-31","v":645},{"s":"Cologne","d":"1921-04-03","v":653},{"s":"Cologne","d":"1921-04-07","v":628},{"s":"Cologne","d":"1921-04-09","v":687},{"s":"Cologne","d":"1921-04-14","v":678},{"s":"Cologne","d":"1921-04-18","v":678},{"s":"Cologne","d":"1921-04-21","v":670},{"s":"Cologne","d":"1921-04-26","v":703},{"s":"Cologne","d":"1921-05-01","v":703},{"s":"Cologne","d":"1921-05-05","v":700},{"s":"Cologne","d":"1921-05-07","v":764},{"s":"Cologne","d":"1921-05-10","v":814},{"s":"Cologne","d":"1921-05-15","v":831},{"s":"Cologne","d":"1921-05-17","v":814},{"s":"Cologne","d":"1921-05-20","v":897},{"s":"Cologne","d":"1921-05-24","v":1013},{"s":"Cologne","d":"1921-05-26","v":1021},{"s":"Cologne","d":"1921-05-30","v":1179},{"s":"Cologne","d":"1921-06-02","v":1279},{"s":"Cologne","d":"1921-06-05","v":1188},{"s":"Cologne","d":"1921-06-09","v":1154},{"s":"Cologne","d":"1921-06-12","v":1113},{"s":"Cologne","d":"1921-06-15","v":1171},{"s":"Cologne","d":"1921-06-17","v":1129},{"s":"Cologne","d":"1921-06-19","v":1221},{"s":"Cologne","d":"1921-06-23","v":1080},{"s":"Cologne","d":"1921-06-26","v":1046},{"s":"Cologne","d":"1921-06-29","v":980},{"s":"Cologne","d":"1921-07-03","v":997},{"s":"Cologne","d":"1921-07-05","v":1063},{"s":"Cologne","d":"1921-07-07","v":1129},{"s":"Cologne","d":"1921-07-08","v":1110},{"s":"Cologne","d":"1921-07-13","v":1013},{"s":"Cologne","d":"1921-07-17","v":897},{"s":"Cologne","d":"1921-07-21","v":839},{"s":"Cologne","d":"1921-07-26","v":889},{"s":"Cologne","d":"1921-07-30","v":806},{"s":"Cologne","d":"1921-08-04","v":789},{"s":"Cologne","d":"1921-08-09","v":781},{"s":"Cologne","d":"1921-08-13","v":764},{"s":"Cologne","d":"1921-08-17","v":880},{"s":"Cologne","d":"1921-08-21","v":988},{"s":"Cologne","d":"1921-08-24","v":905},{"s":"Cologne","d":"1921-08-28","v":930},{"s":"Cologne","d":"1921-09-01","v":963},{"s":"Cologne","d":"1921-09-04","v":880},{"s":"Cologne","d":"1921-09-07","v":814},{"s":"Cologne","d":"1921-09-10","v":831},{"s":"Cologne","d":"1921-09-13","v":764},{"s":"Cologne","d":"1921-09-15","v":764},{"s":"Cologne","d":"1921-09-17","v":880},{"s":"Cologne","d":"1921-09-20","v":797},{"s":"Cologne","d":"1921-09-24","v":764},{"s":"Cologne","d":"1921-09-26","v":855},{"s":"Cologne","d":"1921-09-29","v":847},{"s":"Cologne","d":"1921-10-02","v":814},{"s":"Cologne","d":"1921-10-05","v":714},{"s":"Cologne","d":"1921-10-10","v":664},{"s":"Cologne","d":"1921-10-16","v":615},{"s":"Cologne","d":"1921-10-21","v":590},{"s":"Cologne","d":"1921-10-27","v":598},{"s":"Cologne","d":"1921-10-31","v":615},{"s":"Cologne","d":"1921-11-04","v":635},{"s":"Cologne","d":"1921-11-05","v":639},{"s":"Cologne","d":"1921-11-07","v":698},{"s":"Cologne","d":"1921-11-08","v":1196},{"s":"Cologne","d":"1921-11-10","v":1453},{"s":"Cologne","d":"1921-11-12","v":1395},{"s":"Cologne","d":"1921-11-14","v":1163},{"s":"Cologne","d":"1921-11-17","v":947},{"s":"Cologne","d":"1921-11-20","v":831},{"s":"Cologne","d":"1921-11-24","v":764},{"s":"Cologne","d":"1921-11-28","v":731},{"s":"Cologne","d":"1921-12-01","v":747},{"s":"Cologne","d":"1921-12-04","v":664},{"s":"Cologne","d":"1921-12-07","v":648},{"s":"Cologne","d":"1921-12-10","v":650},{"s":"Cologne","d":"1921-12-13","v":631},{"s":"Cologne","d":"1921-12-18","v":623},{"s":"Cologne","d":"1921-12-21","v":648},{"s":"Cologne","d":"1921-12-25","v":681},{"s":"Cologne","d":"1921-12-29","v":698},{"s":"Cologne","d":"1921-12-31","v":781},{"s":"Cologne","d":"1922-01-02","v":1030},{"s":"Cologne","d":"1922-01-05","v":1719},
{"s":"Lobith","d":"1921-01-01","v":1090},{"s":"Lobith","d":"1921-01-03","v":1350},{"s":"Lobith","d":"1921-01-06","v":1600},{"s":"Lobith","d":"1921-01-09","v":1510},{"s":"Lobith","d":"1921-01-11","v":1455},{"s":"Lobith","d":"1921-01-13","v":1500},{"s":"Lobith","d":"1921-01-15","v":1800},{"s":"Lobith","d":"1921-01-16","v":2080},{"s":"Lobith","d":"1921-01-18","v":2170},{"s":"Lobith","d":"1921-01-20","v":2300},{"s":"Lobith","d":"1921-01-22","v":2500},{"s":"Lobith","d":"1921-01-23","v":2560},{"s":"Lobith","d":"1921-01-24","v":2575},{"s":"Lobith","d":"1921-01-25","v":2490},{"s":"Lobith","d":"1921-01-26","v":2480},{"s":"Lobith","d":"1921-01-28","v":2530},{"s":"Lobith","d":"1921-01-29","v":2600},{"s":"Lobith","d":"1921-01-31","v":2800},{"s":"Lobith","d":"1921-02-01","v":2780},{"s":"Lobith","d":"1921-02-02","v":2700},{"s":"Lobith","d":"1921-02-03","v":2450},{"s":"Lobith","d":"1921-02-05","v":2100},{"s":"Lobith","d":"1921-02-08","v":1800},{"s":"Lobith","d":"1921-02-11","v":1570},{"s":"Lobith","d":"1921-02-13","v":1450},{"s":"Lobith","d":"1921-02-15","v":1380},{"s":"Lobith","d":"1921-02-17","v":1330},{"s":"Lobith","d":"1921-02-20","v":1320},{"s":"Lobith","d":"1921-02-23","v":1240},{"s":"Lobith","d":"1921-02-27","v":1135},{"s":"Lobith","d":"1921-03-03","v":1070},{"s":"Lobith","d":"1921-03-05","v":1040},{"s":"Lobith","d":"1921-03-07","v":1062},{"s":"Lobith","d":"1921-03-09","v":1037},{"s":"Lobith","d":"1921-03-13","v":995},{"s":"Lobith","d":"1921-03-17","v":937},{"s":"Lobith","d":"1921-03-20","v":895},{"s":"Lobith","d":"1921-03-23","v":878},{"s":"Lobith","d":"1921-03-26","v":870},{"s":"Lobith","d":"1921-03-30","v":837},{"s":"Lobith","d":"1921-04-03","v":812},{"s":"Lobith","d":"1921-04-06","v":812},{"s":"Lobith","d":"1921-04-10","v":795},{"s":"Lobith","d":"1921-04-12","v":837},{"s":"Lobith","d":"1921-04-15","v":862},{"s":"Lobith","d":"1921-04-19","v":837},{"s":"Lobith","d":"1921-04-23","v":820},{"s":"Lobith","d":"1921-04-28","v":862},{"s":"Lobith","d":"1921-05-01","v":845},{"s":"Lobith","d":"1921-05-05","v":837},{"s":"Lobith","d":"1921-05-07","v":822},{"s":"Lobith","d":"1921-05-10","v":897},{"s":"Lobith","d":"1921-05-13","v":997},{"s":"Lobith","d":"1921-05-18","v":955},{"s":"Lobith","d":"1921-05-21","v":980},{"s":"Lobith","d":"1921-05-24","v":1100},{"s":"Lobith","d":"1921-05-27","v":1146},{"s":"Lobith","d":"1921-05-29","v":1200},{"s":"Lobith","d":"1921-05-31","v":1296},{"s":"Lobith","d":"1921-06-02","v":1350},{"s":"Lobith","d":"1921-06-04","v":1395},{"s":"Lobith","d":"1921-06-05","v":1390},{"s":"Lobith","d":"1921-06-07","v":1320},{"s":"Lobith","d":"1921-06-10","v":1287},{"s":"Lobith","d":"1921-06-12","v":1290},{"s":"Lobith","d":"1921-06-15","v":1329},{"s":"Lobith","d":"1921-06-18","v":1310},{"s":"Lobith","d":"1921-06-20","v":1345},{"s":"Lobith","d":"1921-06-24","v":1254},{"s":"Lobith","d":"1921-06-26","v":1229},{"s":"Lobith","d":"1921-06-29","v":1229},{"s":"Lobith","d":"1921-07-01","v":1146},{"s":"Lobith","d":"1921-07-04","v":1154},{"s":"Lobith","d":"1921-07-05","v":1129},{"s":"Lobith","d":"1921-07-08","v":1262},{"s":"Lobith","d":"1921-07-10","v":1246},{"s":"Lobith","d":"1921-07-14","v":1163},{"s":"Lobith","d":"1921-07-18","v":1046},{"s":"Lobith","d":"1921-07-22","v":972},{"s":"Lobith","d":"1921-07-27","v":1005},{"s":"Lobith","d":"1921-08-01","v":938},{"s":"Lobith","d":"1921-08-05","v":914},{"s":"Lobith","d":"1921-08-09","v":889},{"s":"Lobith","d":"1921-08-13","v":897},{"s":"Lobith","d":"1921-08-16","v":900},{"s":"Lobith","d":"1921-08-19","v":1013},{"s":"Lobith","d":"1921-08-22","v":1105},{"s":"Lobith","d":"1921-08-26","v":1030},{"s":"Lobith","d":"1921-09-01","v":1088},{"s":"Lobith","d":"1921-09-04","v":1050},{"s":"Lobith","d":"1921-09-09","v":955},{"s":"Lobith","d":"1921-09-13","v":947},{"s":"Lobith","d":"1921-09-16","v":914},{"s":"Lobith","d":"1921-09-19","v":980},{"s":"Lobith","d":"1921-09-22","v":930},{"s":"Lobith","d":"1921-09-26","v":880},{"s":"Lobith","d":"1921-09-29","v":955},{"s":"Lobith","d":"1921-10-02","v":930},{"s":"Lobith","d":"1921-10-05","v":880},{"s":"Lobith","d":"1921-10-10","v":797},{"s":"Lobith","d":"1921-10-14","v":764},{"s":"Lobith","d":"1921-10-19","v":714},{"s":"Lobith","d":"1921-10-23","v":681},{"s":"Lobith","d":"1921-10-27","v":681},{"s":"Lobith","d":"1921-10-30","v":714},{"s":"Lobith","d":"1921-11-02","v":673},{"s":"Lobith","d":"1921-11-04","v":670},{"s":"Lobith","d":"1921-11-07","v":747},{"s":"Lobith","d":"1921-11-09","v":947},{"s":"Lobith","d":"1921-11-10","v":1200},{"s":"Lobith","d":"1921-11-11","v":1445},{"s":"Lobith","d":"1921-11-12","v":1462},{"s":"Lobith","d":"1921-11-14","v":1395},{"s":"Lobith","d":"1921-11-17","v":1113},{"s":"Lobith","d":"1921-11-20","v":997},{"s":"Lobith","d":"1921-11-24","v":914},{"s":"Lobith","d":"1921-11-27","v":864},{"s":"Lobith","d":"1921-12-02","v":797},{"s":"Lobith","d":"1921-12-05","v":747},{"s":"Lobith","d":"1921-12-09","v":714},{"s":"Lobith","d":"1921-12-11","v":747},{"s":"Lobith","d":"1921-12-15","v":723},{"s":"Lobith","d":"1921-12-18","v":739},{"s":"Lobith","d":"1921-12-21","v":730},{"s":"Lobith","d":"1921-12-24","v":781},{"s":"Lobith","d":"1921-12-27","v":814},{"s":"Lobith","d":"1921-12-30","v":864},{"s":"Lobith","d":"1921-12-31","v":980},{"s":"Lobith","d":"1922-01-02","v":1196},{"s":"Lobith","d":"1922-01-04","v":1694},{"s":"Lobith","d":"1922-01-05","v":2085}
]},
"layer":[
{"mark":{"type":"line","strokeWidth":4,"clip":false},
 "encoding":{
  "x":{"field":"d","type":"temporal","scale":{"type":"utc","domain":[{"year":1921,"month":1,"date":1,"utc":true},{"year":1922,"month":1,"date":6,"utc":true}]},
   "axis":{"title":null,"values":[{"year":1921,"month":1,"date":1,"utc":true},{"year":1921,"month":2,"date":1,"utc":true},{"year":1921,"month":3,"date":1,"utc":true},{"year":1921,"month":4,"date":1,"utc":true},{"year":1921,"month":5,"date":1,"utc":true},{"year":1921,"month":6,"date":1,"utc":true},{"year":1921,"month":7,"date":1,"utc":true},{"year":1921,"month":8,"date":1,"utc":true},{"year":1921,"month":9,"date":1,"utc":true},{"year":1921,"month":10,"date":1,"utc":true},{"year":1921,"month":11,"date":1,"utc":true},{"year":1921,"month":12,"date":1,"utc":true},{"year":1922,"month":1,"date":1,"utc":true}],
    "format":"%m.%d.%Y","labelAngle":-45,"labelAlign":"right","labelBaseline":"middle","labelFontSize":17,"labelPadding":10,"labelColor":"black","labelOverlap":false,"labelFlush":false,"labelBound":false,
    "tickSize":6,"tickColor":"#868686","tickWidth":1.5,"domainColor":"#868686","domainWidth":1.5,"grid":true,"gridColor":"#8f8f8f","gridWidth":1.5}},
  "y":{"field":"v","type":"quantitative","scale":{"domain":[0,3000],"nice":false,"zero":true},
   "axis":{"title":"Average daily discharge [m³/s]","titleFontSize":31,"titleFontWeight":"normal","titleColor":"black","titlePadding":13,"titleY":280,
    "values":[0,100,200,300,400,500,600,700,800,900,1000,1100,1200,1300,1400,1500,1600,1700,1800,1900,2000,2100,2200,2300,2400,2500,2600,2700,2800,2900,3000],
    "labelExpr":"datum.value % 500 === 0 ? datum.value : ''","labelFontSize":15,"labelColor":"black","labelPadding":12,"labelOverlap":false,
    "tickSize":7,"tickColor":"#868686","tickWidth":1.5,"tickOpacity":{"condition":{"test":"datum.value % 500 === 0","value":1},"value":0},
    "domainColor":"#868686","domainWidth":1.5,"grid":true,"gridColor":"#9a9a9a","gridWidth":1.5}},
  "color":{"field":"s","type":"nominal",
   "scale":{"domain":["Diepoldsau","Rekingen","Basle","Maxau","Worms","Mainz","Kaub","Andernach","Cologne","Lobith"],
            "range":["#4271ab","#b8433f","#83aa44","#6e5495","#3d9ab3","#ed8a3a","#8eaad3","#d59490","#b7cf93","#a798c0"]},
   "legend":{"orient":"bottom","direction":"horizontal","title":null,"columns":10,"symbolType":"stroke","symbolSize":2900,"symbolStrokeWidth":3,"labelFontSize":10,"labelOffset":5,"columnPadding":0,"offset":-9,"padding":22,"labelColor":"black"}}
 }},
{"data":{"values":[{}]},
 "mark":{"type":"rect","fill":"white","stroke":"black","strokeWidth":2,"clip":false},
 "encoding":{
  "x":{"datum":{"year":1921,"month":2,"date":24,"utc":true},"type":"temporal",
   "axis":{"title":null,"values":[{"year":1921,"month":1,"date":1,"utc":true},{"year":1921,"month":2,"date":1,"utc":true},{"year":1921,"month":3,"date":1,"utc":true},{"year":1921,"month":4,"date":1,"utc":true},{"year":1921,"month":5,"date":1,"utc":true},{"year":1921,"month":6,"date":1,"utc":true},{"year":1921,"month":7,"date":1,"utc":true},{"year":1921,"month":8,"date":1,"utc":true},{"year":1921,"month":9,"date":1,"utc":true},{"year":1921,"month":10,"date":1,"utc":true},{"year":1921,"month":11,"date":1,"utc":true},{"year":1921,"month":12,"date":1,"utc":true},{"year":1922,"month":1,"date":1,"utc":true}],
    "format":"%m.%d.%Y","labelAngle":-45,"labelAlign":"right","labelBaseline":"middle","labelFontSize":17,"labelPadding":10,"labelColor":"black","labelOverlap":false,"labelFlush":false,"labelBound":false,
    "tickSize":6,"tickColor":"#868686","tickWidth":1.5,"domainColor":"#868686","domainWidth":1.5,"grid":true,"gridColor":"#8f8f8f","gridWidth":1.5}},
  "x2":{"datum":{"year":1921,"month":11,"date":10,"hours":18,"utc":true}},
  "y":{"datum":3015,"type":"quantitative",
   "axis":{"title":"Average daily discharge [m³/s]","titleFontSize":31,"titleFontWeight":"normal","titleColor":"black","titlePadding":13,"titleY":280,
    "values":[0,100,200,300,400,500,600,700,800,900,1000,1100,1200,1300,1400,1500,1600,1700,1800,1900,2000,2100,2200,2300,2400,2500,2600,2700,2800,2900,3000],
    "labelExpr":"datum.value % 500 === 0 ? datum.value : ''","labelFontSize":15,"labelColor":"black","labelPadding":12,"labelOverlap":false,
    "tickSize":7,"tickColor":"#868686","tickWidth":1.5,"tickOpacity":{"condition":{"test":"datum.value % 500 === 0","value":1},"value":0},
    "domainColor":"#868686","domainWidth":1.5,"grid":true,"gridColor":"#9a9a9a","gridWidth":1.5}},
  "y2":{"datum":2616}}},
{"data":{"values":[{}]},
 "mark":{"type":"text","fontSize":27.5,"fontWeight":"bold","lineHeight":37,"align":"center","baseline":"middle","color":"black","clip":false},
 "encoding":{
  "x":{"datum":{"year":1921,"month":7,"date":4,"utc":true},"type":"temporal",
   "axis":{"title":null,"values":[{"year":1921,"month":1,"date":1,"utc":true},{"year":1921,"month":2,"date":1,"utc":true},{"year":1921,"month":3,"date":1,"utc":true},{"year":1921,"month":4,"date":1,"utc":true},{"year":1921,"month":5,"date":1,"utc":true},{"year":1921,"month":6,"date":1,"utc":true},{"year":1921,"month":7,"date":1,"utc":true},{"year":1921,"month":8,"date":1,"utc":true},{"year":1921,"month":9,"date":1,"utc":true},{"year":1921,"month":10,"date":1,"utc":true},{"year":1921,"month":11,"date":1,"utc":true},{"year":1921,"month":12,"date":1,"utc":true},{"year":1922,"month":1,"date":1,"utc":true}],
    "format":"%m.%d.%Y","labelAngle":-45,"labelAlign":"right","labelBaseline":"middle","labelFontSize":17,"labelPadding":10,"labelColor":"black","labelOverlap":false,"labelFlush":false,"labelBound":false,
    "tickSize":6,"tickColor":"#868686","tickWidth":1.5,"domainColor":"#868686","domainWidth":1.5,"grid":true,"gridColor":"#8f8f8f","gridWidth":1.5}},
  "y":{"datum":2900,"type":"quantitative",
   "axis":{"title":"Average daily discharge [m³/s]","titleFontSize":31,"titleFontWeight":"normal","titleColor":"black","titlePadding":13,"titleY":280,
    "values":[0,100,200,300,400,500,600,700,800,900,1000,1100,1200,1300,1400,1500,1600,1700,1800,1900,2000,2100,2200,2300,2400,2500,2600,2700,2800,2900,3000],
    "labelExpr":"datum.value % 500 === 0 ? datum.value : ''","labelFontSize":15,"labelColor":"black","labelPadding":12,"labelOverlap":false,
    "tickSize":7,"tickColor":"#868686","tickWidth":1.5,"tickOpacity":{"condition":{"test":"datum.value % 500 === 0","value":1},"value":0},
    "domainColor":"#868686","domainWidth":1.5,"grid":true,"gridColor":"#9a9a9a","gridWidth":1.5}},
  "text":{"value":["Low water events 1921: March-May, September/October,","November/December"]}}}
]
}
